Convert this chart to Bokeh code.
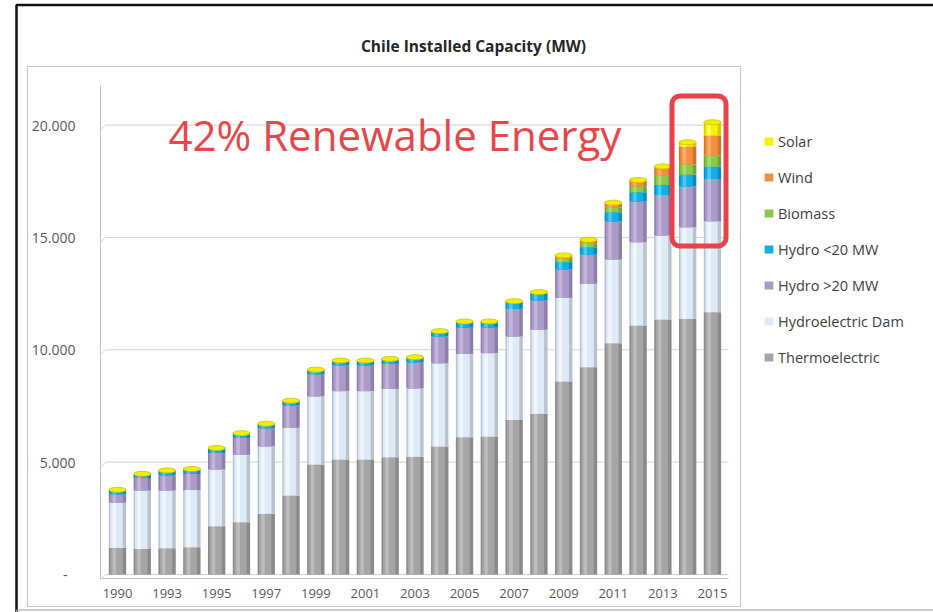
import numpy as np
from bokeh.plotting import figure
from bokeh.models import (Range1d, FixedTicker, Legend, LegendItem, BoxAnnotation,
                          Label, ColumnDataSource, LinearAxis)
from bokeh.embed import file_html
from bokeh.resources import INLINE

# ---------------- data ----------------
years = ["1990", "1992", "1993", "1994", "1995", "1996", "1997", "1998", "1999",
         "2000", "2001", "2002", "2003", "2004", "2005", "2006", "2007", "2008",
         "2009", "2010", "2011", "2012", "2013", "2014", "2015"]
thermo = [1190, 1140, 1170, 1215, 2150, 2330, 2700, 3515, 4895, 5120, 5120, 5220, 5240,
          5700, 6110, 6140, 6880, 7150, 8590, 9225, 10295, 11080, 11350, 11380, 11670]
hydro_dam = [2000, 2600, 2570, 2550, 2520, 3000, 3000, 3010, 3030, 3040, 3040, 3040, 3040,
             3700, 3710, 3710, 3710, 3740, 3720, 3710, 3720, 3710, 3740, 4075, 4050]
hydro_big = [370, 550, 670, 710, 740, 740, 800, 990, 980, 1140, 1140, 1115, 1150,
             1190, 1160, 1130, 1230, 1300, 1260, 1290, 1690, 1810, 1800, 1810, 1885]
hydro_small = [210, 190, 220, 220, 220, 220, 210, 220, 210, 220, 220, 220, 240,
               240, 280, 280, 290, 320, 330, 340, 415, 415, 450, 535, 550]
biomass = [0, 0, 0, 0, 0, 0, 0, 0, 0, 0, 0, 0, 0,
           0, 0, 0, 30, 40, 150, 150, 195, 265, 400, 445, 490]
wind = [0, 0, 0, 0, 0, 0, 0, 0, 0, 0, 0, 0, 0,
        0, 0, 0, 20, 20, 150, 180, 220, 255, 370, 800, 890]
solar = [0, 0, 0, 0, 0, 0, 0, 0, 0, 0, 0, 0, 0,
         0, 0, 0, 0, 0, 0, 0, 10, 20, 50, 190, 590]

series_names = ["Thermoelectric", "Hydroelectric Dam", "Hydro >20 MW", "Hydro <20 MW",
                "Biomass", "Wind", "Solar"]
series_values = [thermo, hydro_dam, hydro_big, hydro_small, biomass, wind, solar]
base_colors = ["#a5a5a5", "#dfeaf7", "#ab9bc8", "#12aee8", "#8cc84b", "#f29040", "#f6f200"]
dark_colors = ["#8a8a8a", "#b8c3cf", "#8d7fab", "#0a8bc0", "#6ea536", "#d4742a", "#d2cc00"]
light_colors = ["#bcbcbc", "#f0f6fd", "#c2b5da", "#4fc7f3", "#a8da6e", "#f6ad6a", "#ffff70"]

y_ticks = [0, 5000, 10000, 15000, 20000]
y_tick_labels = ["-\u2007", "5.000", "10.000", "15.000", "20.000"]
chart_title = "Chile Installed Capacity (MW)"
note_text = "42% Renewable Energy"

FONT = "Open Sans"
W, H = 933, 612


# page pixel -> data coordinate helpers (layout only)
def dx(px):
    return (px - 117) / 24.79


def dy(py):
    return (574 - py) * 44.5


PX = 44.5  # data units per vertical pixel

# ---------------- figure ----------------
x = np.arange(len(years))
p = figure(width=W, height=H, output_backend="svg", toolbar_location=None,
           x_range=Range1d(dx(0), dx(W)), y_range=Range1d(dy(H), dy(0)),
           x_axis_location=None, y_axis_location=None, min_border=0, title=None)
p.background_fill_color = "white"
p.border_fill_color = "white"
p.outline_line_color = None
p.xgrid.visible = False
p.ygrid.visible = False

# gridlines with a small 3D slant at the left wall
gy = np.array(y_ticks, dtype=float)
p.segment(x0=[dx(105)] * len(gy), y0=gy, x1=[dx(728)] * len(gy), y1=gy,
          line_color="#d2d2d2", line_width=1)
p.segment(x0=[dx(100)] * len(gy), y0=gy - 5 * PX, x1=[dx(105)] * len(gy), y1=gy,
          line_color="#d2d2d2", line_width=1)

# stacked cylinders (simple shading in three layers)
bottom = np.zeros(len(years))
legend_renderers = []
for name, vals, bc, dc, lc in zip(series_names, series_values, base_colors,
                                  dark_colors, light_colors):
    vals = np.array(vals, dtype=float)
    top = bottom + vals
    src = ColumnDataSource(dict(x=x, x1=x - 0.04, x2=x - 0.13, bottom=bottom.copy(), top=top))
    p.vbar(x="x", width=0.70, bottom="bottom", top="top", source=src,
           fill_color=dc, line_color=None)
    r = p.vbar(x="x1", width=0.50, bottom="bottom", top="top", source=src,
               fill_color=bc, line_color=None)
    p.vbar(x="x2", width=0.14, bottom="bottom", top="top", source=src,
           fill_color=lc, line_color=None)
    legend_renderers.append((name, r))
    bottom = top

# top caps of the cylinders
cap_src = ColumnDataSource(dict(x=x, y=bottom))
p.ellipse(x="x", y="y", width=0.70, height=5, height_units="screen", source=cap_src,
          fill_color="#f2ee00", line_color="#c9c400", line_width=0.8)

# axes drawn inside the (full-canvas) frame
yaxis = LinearAxis(ticker=FixedTicker(ticks=y_ticks), fixed_location=dx(100),
                   bounds=(dy(578), dy(85)))
yaxis.major_label_overrides = {t: l for t, l in zip(y_ticks, y_tick_labels)}
xticks = list(range(0, len(years), 2))
xaxis = LinearAxis(ticker=FixedTicker(ticks=xticks), fixed_location=dy(578),
                   bounds=(dx(100), dx(728)))
xaxis.major_label_overrides = {i: years[i] for i in xticks}
for ax in (xaxis, yaxis):
    ax.axis_line_color = "#c4c4c4"
    ax.major_tick_line_color = None
    ax.minor_tick_line_color = None
    ax.major_label_text_font = FONT
    ax.major_label_text_color = "#595959"
yaxis.major_label_text_font_size = "14px"
xaxis.major_label_text_font_size = "13px"
yaxis.major_label_standoff = 19
xaxis.major_label_standoff = 4
p.add_layout(yaxis, "left")
p.add_layout(xaxis, "below")

# frames
p.add_layout(BoxAnnotation(left=dx(27), right=dx(740), top=dy(66), bottom=dy(606),
                           fill_alpha=0, line_color="#c6c6c6", line_alpha=1,
                           line_width=1.2))
p.add_layout(BoxAnnotation(left=dx(16), right=dx(1200), top=dy(4.5), bottom=dy(900),
                           fill_alpha=0, line_color="#111111", line_alpha=1,
                           line_width=2.5))
p.add_layout(BoxAnnotation(left=dx(16), right=dx(1200), top=dy(609.5), bottom=dy(900),
                           fill_alpha=0, line_color="#9a9a9a", line_alpha=1,
                           line_width=1.2))

# red highlight box
p.add_layout(BoxAnnotation(left=dx(671.5), right=dx(725.5), top=dy(95.5), bottom=dy(245.5),
                           fill_alpha=0, line_color="#e8434a", line_alpha=1, line_width=5,
                           border_radius=8))

# title and note
p.add_layout(Label(x=dx(473), y=dy(45), text=chart_title, text_align="center",
                   text_baseline="middle", text_font=FONT, text_font_size="15.5px",
                   text_font_style="bold", text_color="#262626"))
p.add_layout(Label(x=dx(168), y=dy(134), text=note_text, text_align="left",
                   text_baseline="middle", text_font=FONT, text_font_size="42px",
                   text_color="#e8464a"))

# legend
items = [LegendItem(label=n, renderers=[r]) for n, r in reversed(legend_renderers)]
legend = Legend(items=items, location=(763, 245), orientation="vertical",
                glyph_width=11, glyph_height=10, label_height=20, spacing=16,
                label_standoff=4, padding=0, margin=0,
                border_line_color=None, background_fill_alpha=0,
                label_text_font=FONT, label_text_font_size="14.5px",
                label_text_color="#404040")
p.add_layout(legend, "center")

open("out.html", "w").write(file_html(p, INLINE))
